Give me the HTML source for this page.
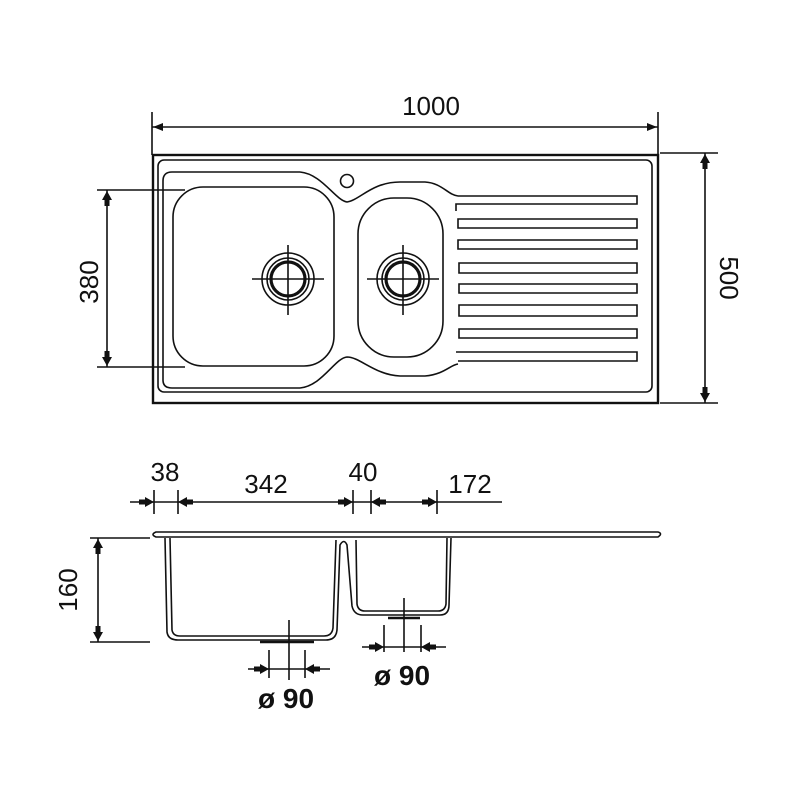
<!DOCTYPE html>
<html><head><meta charset="utf-8"><style>
html,body{margin:0;padding:0;background:#fff;}
svg{display:block;}
text{font-family:"Liberation Sans",sans-serif;fill:#111;}
</style></head><body>
<svg width="800" height="800" viewBox="0 0 800 800" xmlns="http://www.w3.org/2000/svg">
<defs>
<path id="ar" d="M0,0 L-9,-5 L-9,-2.5 L-15,-2.5 L-15,2.5 L-9,2.5 L-9,5 Z" fill="#111"/>
<path id="at" d="M0,0 L-10,-4 L-10,4 Z" fill="#111"/>
</defs>
<g fill="none" stroke="#111" stroke-width="1.6">
<line x1="152" y1="112" x2="152" y2="155"/>
<line x1="658" y1="112" x2="658" y2="155"/>
<line x1="152" y1="127" x2="658" y2="127"/>
<line x1="660" y1="153" x2="718" y2="153"/>
<line x1="660" y1="403" x2="718" y2="403"/>
<line x1="705" y1="153" x2="705" y2="403"/>
<line x1="97" y1="190" x2="185" y2="190"/>
<line x1="97" y1="367" x2="185" y2="367"/>
<line x1="107" y1="190" x2="107" y2="367"/>
<rect x="153" y="155" width="505" height="248" stroke-width="2.4"/>
<rect x="158" y="160" width="494" height="232" rx="6"/>
<path d="M300,172 L172,172 Q163,172 163,181 L163,380 Q163,388 172,388 L300,388"/>
<path d="M300,172 C322,174 335,200 347,202 C360,200 372,182 400,182 L425,182 C442,183 448,195 458,196"/>
<path d="M300,388 C322,386 335,358 347,357 C360,357 375,375 400,376 L425,376 C445,374 450,365 458,364"/>
<rect x="173" y="187" width="161" height="179" rx="30"/>
<rect x="358" y="198" width="85" height="159" rx="36"/>
<circle cx="347" cy="181" r="6.5"/>
<circle cx="288" cy="279" r="26"/>
<circle cx="288" cy="279" r="21"/>
<circle cx="288" cy="279" r="17" stroke-width="3.2"/>
<line x1="252" y1="279" x2="324" y2="279"/>
<line x1="288" y1="245" x2="288" y2="315"/>
<circle cx="403" cy="279" r="26"/>
<circle cx="403" cy="279" r="21"/>
<circle cx="403" cy="279" r="17" stroke-width="3.2"/>
<line x1="367" y1="279" x2="439" y2="279"/>
<line x1="403" y1="245" x2="403" y2="315"/>
<path d="M458,196 L637,196 L637,204 L456,204 L456,211"/>
<path d="M458,219 L637,219 L637,228 L458,228 Z"/>
<path d="M458,240 L637,240 L637,249 L458,249 Z"/>
<path d="M459,263 L637,263 L637,273 L459,273 Z"/>
<path d="M459,284 L637,284 L637,293 L459,293 Z"/>
<path d="M459,305 L637,305 L637,316 L459,316 Z"/>
<path d="M459,329 L637,329 L637,338 L459,338 Z"/>
<path d="M456,352 L637,352 L637,361 L458,361"/>
<line x1="130" y1="502" x2="502" y2="502"/>
<line x1="154" y1="490" x2="154" y2="514"/>
<line x1="178" y1="490" x2="178" y2="514"/>
<line x1="353" y1="490" x2="353" y2="514"/>
<line x1="371" y1="490" x2="371" y2="514"/>
<line x1="437" y1="490" x2="437" y2="514"/>
<path d="M156,532 L658,532 Q663,533.5 658,537 L156,537 Q150,534.5 156,532 Z"/>
<path d="M165,538 L167,632 Q168,640 178,640 L326,640 Q336,640 337,630 L340,545 Q344,538 347,545 L352,606 Q354,615 363,615 L440,615 Q449,615 449,605 L451,538"/>
<path d="M170,538 L172,630 Q173,636 180,636 L324,636 Q332,636 333,628 L336,540"/>
<path d="M356,540 L357,604 Q358,611 365,611 L438,611 Q445,611 446,604 L447,538"/>
<path d="M260,642 L314,642 M388,618 L420,618" stroke-width="2.5"/>
<line x1="90" y1="538" x2="150" y2="538"/>
<line x1="90" y1="642" x2="150" y2="642"/>
<line x1="98" y1="538" x2="98" y2="642"/>
<line x1="289" y1="620" x2="289" y2="680"/>
<line x1="269" y1="650" x2="269" y2="678"/>
<line x1="305" y1="650" x2="305" y2="678"/>
<line x1="248" y1="669" x2="330" y2="669"/>
<line x1="404" y1="598" x2="404" y2="652"/>
<line x1="384" y1="625" x2="384" y2="652"/>
<line x1="421" y1="625" x2="421" y2="652"/>
<line x1="362" y1="647" x2="446" y2="647"/>
</g>
<use href="#at" transform="translate(153,127) rotate(180)"/>
<use href="#at" transform="translate(657,127)"/>
<use href="#ar" transform="translate(705,154) rotate(-90)"/>
<use href="#ar" transform="translate(705,402) rotate(90)"/>
<use href="#ar" transform="translate(107,191) rotate(-90)"/>
<use href="#ar" transform="translate(107,366) rotate(90)"/>
<use href="#ar" transform="translate(154,502)"/>
<use href="#ar" transform="translate(178,502) rotate(180)"/>
<use href="#ar" transform="translate(353,502)"/>
<use href="#ar" transform="translate(371,502) rotate(180)"/>
<use href="#ar" transform="translate(437,502)"/>
<use href="#ar" transform="translate(98,539) rotate(-90)"/>
<use href="#ar" transform="translate(98,641) rotate(90)"/>
<use href="#ar" transform="translate(269,669)"/>
<use href="#ar" transform="translate(305,669) rotate(180)"/>
<use href="#ar" transform="translate(384,647)"/>
<use href="#ar" transform="translate(421,647) rotate(180)"/>
<text x="431" y="115" font-size="26" text-anchor="middle">1000</text>
<text transform="translate(720,278) rotate(90)" font-size="26" text-anchor="middle">500</text>
<text transform="translate(98,282) rotate(-90)" font-size="26" text-anchor="middle">380</text>
<text x="165" y="481" font-size="26" text-anchor="middle">38</text>
<text x="266" y="493" font-size="26" text-anchor="middle">342</text>
<text x="363" y="481" font-size="26" text-anchor="middle">40</text>
<text x="470" y="493" font-size="26" text-anchor="middle">172</text>
<text transform="translate(77,590) rotate(-90)" font-size="26" text-anchor="middle">160</text>
<text x="286" y="708" font-size="28" font-weight="bold" text-anchor="middle">ø 90</text>
<text x="402" y="685" font-size="28" font-weight="bold" text-anchor="middle">ø 90</text>
</svg>
</body></html>
